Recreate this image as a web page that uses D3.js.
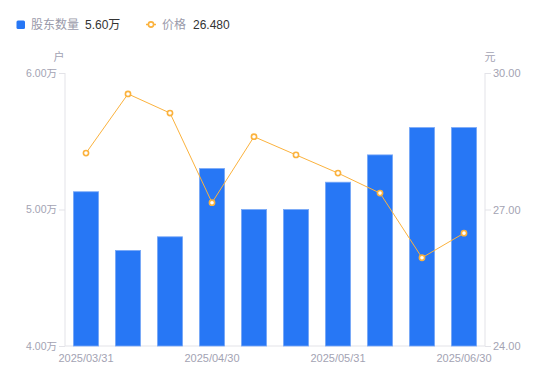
<!DOCTYPE html>
<html><head><meta charset="utf-8">
<script src="https://cdn.jsdelivr.net/npm/d3@7/dist/d3.min.js"></script>
<style>body{margin:0;background:#fff;}svg{display:block;font-family:"Liberation Sans","Noto Sans CJK SC",sans-serif;}</style>
</head><body><svg id="c" width="550" height="381"></svg>
<script>
const dates = ["2025/03/31","2025/04/10","2025/04/20","2025/04/30","2025/05/10","2025/05/20","2025/05/31","2025/06/10","2025/06/20","2025/06/30"];
const holders = [5.13, 4.70, 4.80, 5.30, 5.00, 5.00, 5.20, 5.40, 5.60, 5.60];
const prices = [28.24, 29.54, 29.12, 27.15, 28.60, 28.20, 27.80, 27.36, 25.94, 26.48];
const leftTicks = [4, 5, 6];
const rightTicks = [24, 27, 30];
const xLabels = ["2025/03/31","2025/04/30","2025/05/31","2025/06/30"];

const svg = d3.select("#c");
const L = 65, R = 485, T = 73, B = 346;
const x = d3.scaleBand().domain(dates).range([L, R]).paddingInner(0.4).paddingOuter(0.2);
const yL = d3.scaleLinear().domain([4, 6]).range([B, T]);
const yR = d3.scaleLinear().domain([24, 30]).range([B, T]);
const axisColor = "#e3e3e8", textColor = "#a3a3b3";
const numFont = "'Liberation Sans', 'Noto Sans CJK SC', sans-serif";

// left axis
const gl = svg.append("g").attr("transform", `translate(${L},0)`)
  .call(d3.axisLeft(yL).tickValues(leftTicks).tickSize(6).tickPadding(2).tickFormat(d => d3.format(".2f")(d) + "万"));
// right axis
const gr = svg.append("g").attr("transform", `translate(${R},0)`)
  .call(d3.axisRight(yR).tickValues(rightTicks).tickSize(6).tickPadding(2).tickFormat(d3.format(".2f")));
// bottom axis
const gb = svg.append("g").attr("transform", `translate(0,${B})`)
  .call(d3.axisBottom(x).tickValues(xLabels).tickSize(0).tickPadding(8));
[gl, gr, gb].forEach(g => {
  g.selectAll("path").attr("stroke", axisColor);
  g.selectAll("line").attr("stroke", axisColor);
  g.selectAll("text").attr("fill", textColor).attr("font-size", 11).attr("font-family", numFont);
});
gl.selectAll("text").attr("font-size", 10.5);
gr.selectAll("text").attr("font-size", 11);
gl.select(".domain").attr("d", `M0,${T}V${B}`);
gr.select(".domain").attr("d", `M0,${T}V${B}`);
gb.select(".domain").attr("d", `M${L},0H${R}`);

// unit labels
svg.append("text").attr("x", 59).attr("y", 61).attr("text-anchor", "middle").attr("fill", textColor).attr("font-size", 11).attr("font-family", "'Noto Sans CJK SC'").text("户");
svg.append("text").attr("x", 490).attr("y", 61).attr("text-anchor", "middle").attr("fill", textColor).attr("font-size", 11).attr("font-family", "'Noto Sans CJK SC'").text("元");

// bars
svg.append("g").selectAll("rect").data(dates).join("rect")
  .attr("x", d => x(d)).attr("width", x.bandwidth())
  .attr("y", (d, i) => yL(holders[i])).attr("height", (d, i) => B - yL(holders[i]))
  .attr("fill", "#2777f5").attr("stroke", "#79a8f7").attr("stroke-width", 0.8);

// line
const lineColor = "#fbb23d";
const line = d3.line().x((d, i) => x(dates[i]) + x.bandwidth() / 2).y(d => yR(d));
svg.append("path").datum(prices).attr("d", line).attr("fill", "none").attr("stroke", lineColor).attr("stroke-width", 1);
svg.append("g").selectAll("circle").data(prices).join("circle")
  .attr("cx", (d, i) => x(dates[i]) + x.bandwidth() / 2).attr("cy", d => yR(d)).attr("r", 2.6)
  .attr("fill", "#fff").attr("stroke", lineColor).attr("stroke-width", 1.6);

// legend
const lg = svg.append("g");
lg.append("rect").attr("x", 16.5).attr("y", 20.5).attr("width", 8.5).attr("height", 8.5).attr("rx", 1.5).attr("fill", "#2777f5");
lg.append("text").attr("x", 31).attr("y", 29).attr("font-size", 12).attr("fill", "#9a9aaa").attr("font-family", "'Noto Sans CJK SC'").text("股东数量");
lg.append("text").attr("x", 85).attr("y", 29).attr("font-size", 12).attr("fill", "#333").text(d3.format(".2f")(holders[holders.length - 1]) + "万");
lg.append("line").attr("x1", 146).attr("x2", 156).attr("y1", 24.5).attr("y2", 24.5).attr("stroke", lineColor).attr("stroke-width", 1.5);
lg.append("circle").attr("cx", 151).attr("cy", 24.5).attr("r", 2.6).attr("fill", "#fff").attr("stroke", lineColor).attr("stroke-width", 1.6);
lg.append("text").attr("x", 162).attr("y", 29).attr("font-size", 12).attr("fill", "#9a9aaa").attr("font-family", "'Noto Sans CJK SC'").text("价格");
lg.append("text").attr("x", 193).attr("y", 29).attr("font-size", 12).attr("fill", "#333").text(d3.format(".3f")(prices[prices.length - 1]));
</script></body></html>
